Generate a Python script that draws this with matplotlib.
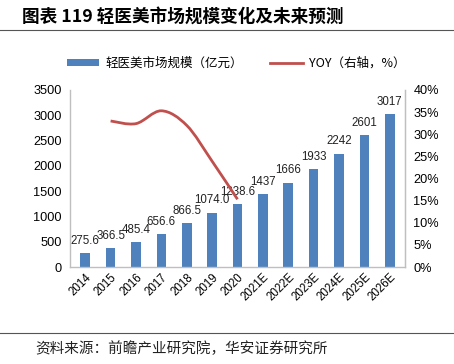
import matplotlib
matplotlib.use("Agg")
import matplotlib.pyplot as plt
from matplotlib.path import Path
from matplotlib.patches import PathPatch
from matplotlib.lines import Line2D
from matplotlib.patches import Patch
import numpy as np

plt.rcParams['font.family'] = ['Liberation Sans', 'Noto Sans CJK SC', 'DejaVu Sans']

years = ['2014', '2015', '2016', '2017', '2018', '2019', '2020',
         '2021E', '2022E', '2023E', '2024E', '2025E', '2026E']
market = [275.6, 366.5, 485.4, 656.6, 866.5, 1074.0, 1238.6,
          1437, 1666, 1933, 2242, 2601, 3017]
bar_labels = ['275.6', '366.5', '485.4', '656.6', '866.5', '1074.0', '1238.6',
              '1437', '1666', '1933', '2242', '2601', '3017']
yoy_years = ['2015', '2016', '2017', '2018', '2019', '2020']
yoy = [33.0, 32.4, 35.3, 32.0, 23.9, 15.3]

title = '图表 119 轻医美市场规模变化及未来预测'
source = '资料来源：前瞻产业研究院，华安证券研究所'
bar_name = '轻医美市场规模（亿元）'
line_name = 'YOY（右轴，%）'

bar_color = '#4F81BD'
line_color = '#C0504D'
spine_color = '#BFBFBF'
cjk = ['Noto Sans CJK SC', 'DejaVu Sans']

fig = plt.figure(figsize=(4.54, 3.64), dpi=100)
ax = fig.add_axes([70/454, 1-267/364, (405-70)/454, (267-90)/364])
x = np.arange(len(years))
bars = ax.bar(x, market, width=0.38, color=bar_color, zorder=2)
for xi, v, lab in zip(x, market, bar_labels):
    ax.annotate(lab, (xi, v), xytext=(0, 4.5), textcoords='offset points',
                ha='center', va='bottom', fontsize=8.3, color='#222222')

ax.set_ylim(0, 3500)
ax.set_yticks(np.arange(0, 3501, 500))
ax.set_xlim(-0.6, len(years) - 0.4)
ax.set_xticks(x)
ax.set_xticklabels(years, rotation=45, ha='right', rotation_mode='anchor', fontsize=8.3)
ax.tick_params(axis='y', labelsize=9.2, length=0, pad=6)
ax.tick_params(axis='x', length=0, pad=3)
ax.spines['top'].set_visible(False)
for s in ['left', 'bottom', 'right']:
    ax.spines[s].set_color(spine_color)
    ax.spines[s].set_linewidth(1.0)

ax2 = ax.twinx()
ax2.set_ylim(0, 40)
ax2.set_yticks(np.arange(0, 41, 5))
ax2.set_yticklabels([f'{t}%' for t in range(0, 41, 5)])
ax2.tick_params(axis='y', labelsize=9.2, length=0, pad=6)
for s in ['top', 'left', 'bottom']:
    ax2.spines[s].set_visible(False)
ax2.spines['right'].set_color(spine_color)

# smooth line (Catmull-Rom style Bezier through the data points)
px = np.array([years.index(y) for y in yoy_years], dtype=float)
py = np.array(yoy, dtype=float)
verts = [(px[0], py[0])]
codes = [Path.MOVETO]
n = len(px)
t = 1 / 3
for i in range(n - 1):
    p0 = (px[max(i-1, 0)], py[max(i-1, 0)])
    p1 = (px[i], py[i])
    p2 = (px[i+1], py[i+1])
    p3 = (px[min(i+2, n-1)], py[min(i+2, n-1)])
    c1 = (p1[0] + (p2[0]-p0[0]) * t / 2, p1[1] + (p2[1]-p0[1]) * t / 2)
    c2 = (p2[0] - (p3[0]-p1[0]) * t / 2, p2[1] - (p3[1]-p1[1]) * t / 2)
    verts += [c1, c2, p2]
    codes += [Path.CURVE4] * 3
ax2.add_patch(PathPatch(Path(verts, codes), facecolor='none', edgecolor=line_color,
                        linewidth=2, zorder=3))

# title, rules, source
fig.text(22/454, 1-17/364, title, fontsize=12.7, fontweight='bold', ha='left', va='center', family=cjk)
fig.add_artist(Line2D([0, 1], [1-30/364, 1-30/364], color='#555555', linewidth=0.8))
fig.add_artist(Line2D([0, 1], [1-333/364, 1-333/364], color='#555555', linewidth=0.8))
fig.text(35/454, 1-349/364, source, fontsize=10.5, ha='left', va='center', family=cjk, color='#222222')

# legend
handles = [Patch(facecolor=bar_color, edgecolor='none'),
           Line2D([0], [0], color=line_color, linewidth=2)]
leg = fig.legend(handles, [bar_name, line_name], loc='center', bbox_to_anchor=(236/454, 1-63/364),
                 ncol=2, frameon=False, prop={'family': cjk, 'size': 9},
                 handlelength=2.6, handleheight=0.5, columnspacing=2.2, handletextpad=0.5)

fig.savefig('out.png', dpi=100)
